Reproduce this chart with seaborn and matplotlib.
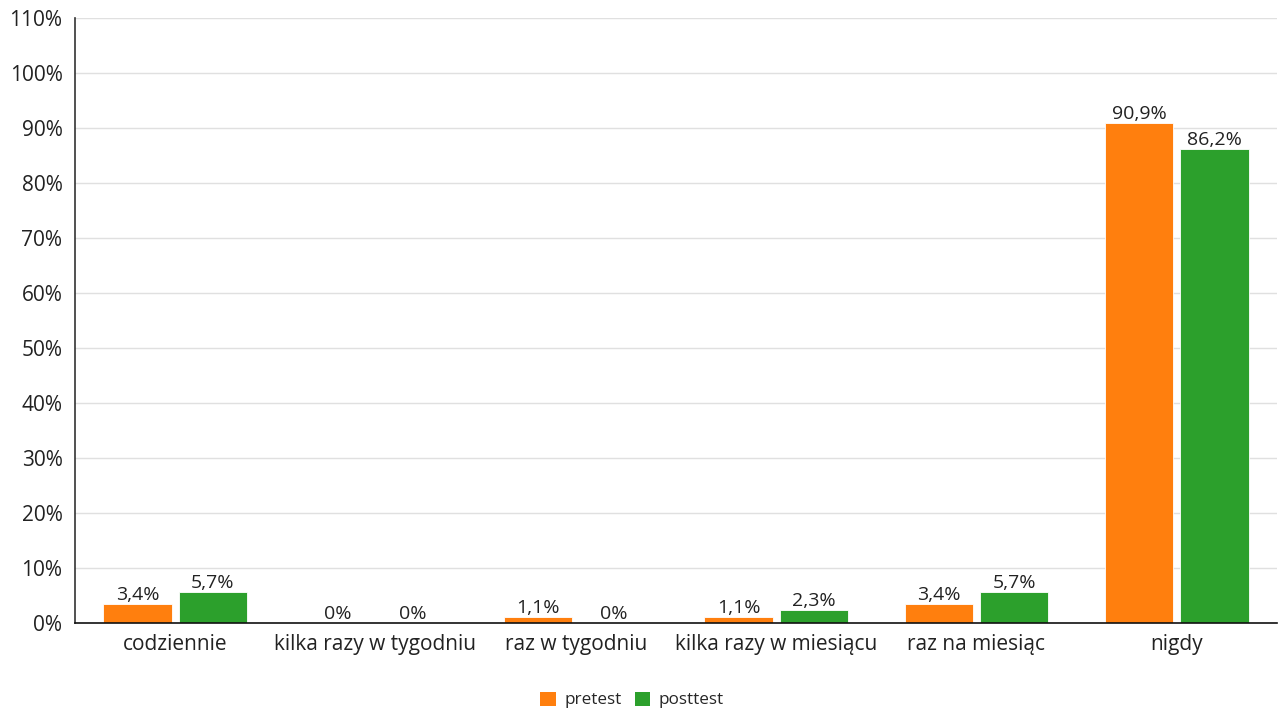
from matplotlib import pyplot as plt
from matplotlib.patches import Patch
import seaborn as sns
import pandas as pd
import numpy as np

sns.set_style('white')
plt.rcParams['font.family'] = ['Open Sans', 'DejaVu Sans']

categories = ['codziennie', 'kilka razy w tygodniu', 'raz w tygodniu',
              'kilka razy w miesiącu', 'raz na miesiąc', 'nigdy']
series = ['pretest', 'posttest']
pretest = [3.4, 0, 1.1, 1.1, 3.4, 90.9]
posttest = [5.7, 0, 0, 2.3, 5.7, 86.2]
colors = ['#ff7f0e', '#2ca02c']

df = pd.DataFrame({
    'kategoria': categories * 2,
    'seria': [series[0]] * len(categories) + [series[1]] * len(categories),
    'wartosc': pretest + posttest,
})

fig = plt.figure(figsize=(12.81, 7.10), dpi=100)
ax = fig.add_axes([75 / 1281, 1 - 623 / 710, 1202 / 1281, 605 / 710])

sns.barplot(data=df, x='kategoria', y='wartosc', hue='seria', order=categories,
            hue_order=series, palette=colors, saturation=1, width=0.75, gap=0.09,
            edgecolor='white', linewidth=0.6, legend=False, ax=ax)

def fmt(v):
    if v == 0:
        return '0%'
    return ('%.1f' % v).replace('.', ',') + '%'

for cont in ax.containers:
    ax.bar_label(cont, labels=[fmt(v) for v in cont.datavalues], padding=0,
                 fontsize=14, color='#222222')

ax.set_ylim(0, 110)
ax.set_xlim(-0.5, len(categories) - 0.5)
ax.set_yticks(np.arange(0, 111, 10))
ax.set_yticklabels([f'{v}%' for v in range(0, 111, 10)])
ax.yaxis.grid(True, color='#e0e0e0', linewidth=1)
ax.set_axisbelow(True)
ax.set_xlabel('')
ax.set_ylabel('')

ax.tick_params(axis='both', which='major', length=0, labelsize=15, labelcolor='#222222')
ax.tick_params(axis='x', pad=8)
ax.tick_params(axis='y', pad=9)
ax.set_xticks(np.arange(-0.5, len(categories)), minor=True)
ax.set_yticks([0, 110], minor=True)
ax.tick_params(axis='x', which='minor', length=8, width=1, color='#333333', direction='out')
ax.tick_params(axis='y', which='minor', length=6, width=1, color='#333333', direction='out')

for side in ['top', 'right']:
    ax.spines[side].set_visible(False)
ax.spines['left'].set_color('#333333')
ax.spines['bottom'].set_color('#111111')
ax.spines['left'].set_linewidth(1.2)
ax.spines['bottom'].set_linewidth(1.2)

handles = [Patch(facecolor=c, edgecolor='none') for c in colors]
fig.legend(handles, series, loc='center', bbox_to_anchor=(0.4935, 10 / 710),
           ncol=2, frameon=False, fontsize=12.3, handlelength=0.9, handleheight=0.9,
           handletextpad=0.5, columnspacing=0.8)

fig.savefig('out.png', dpi=100)
